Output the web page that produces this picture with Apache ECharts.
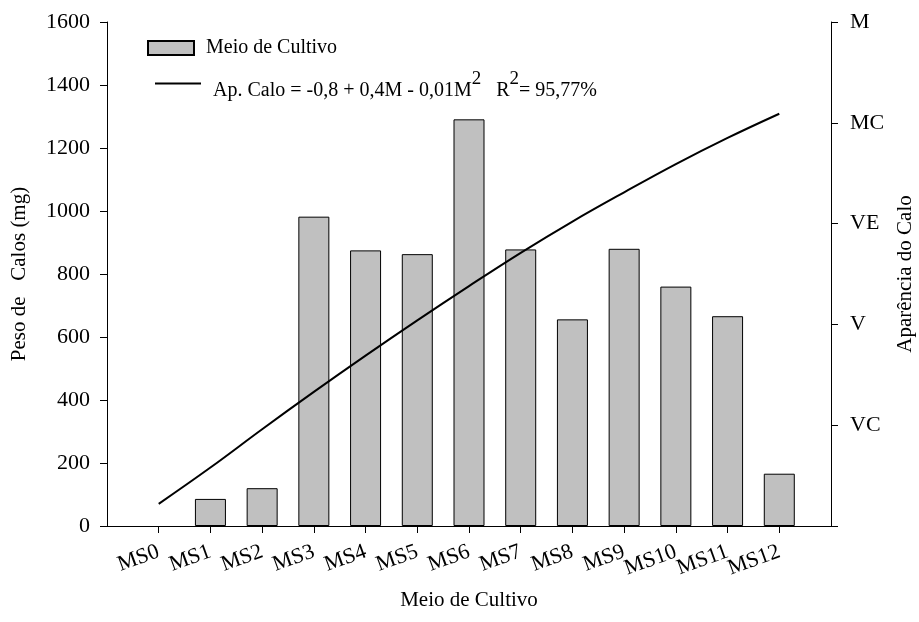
<!DOCTYPE html>
<html>
<head>
<meta charset="utf-8">
<script src="https://cdn.jsdelivr.net/npm/echarts@6/dist/echarts.min.js"></script>
<style>
  html, body { margin: 0; padding: 0; background: #fff; }
  #chart { width: 919px; height: 622px; }
</style>
</head>
<body>
<div id="chart"></div>
<script>
// Culture media (blank slots pad the axis on both sides)
const categories = ['', 'MS0', 'MS1', 'MS2', 'MS3', 'MS4', 'MS5', 'MS6', 'MS7', 'MS8', 'MS9', 'MS10', 'MS11', 'MS12', ''];
// Callus weight (mg) per medium
const pesoCalos = [null, null, 86, 120, 982, 875, 863, 1291, 878, 656, 880, 760, 666, 166, null];
// Fitted callus appearance score (right axis)
const aparencia = [null, 0.22, 0.58, 0.96, 1.33, 1.69, 2.04, 2.38, 2.71, 3.02, 3.31, 3.59, 3.85, 4.09, null];
// Right axis tick labels (score 0..5)
const aparenciaLabels = ['', 'VC', 'V', 'VE', 'MC', 'M'];

const FONT = "'Liberation Serif', 'Times New Roman', serif";
const chart = echarts.init(document.getElementById('chart'), null, { renderer: 'canvas' });

const axisLine = { show: true, lineStyle: { color: '#000', width: 1 } };
const axisTick = { show: true, inside: false, length: 7, lineStyle: { color: '#000', width: 1 } };

chart.setOption({
  backgroundColor: '#fff',
  animation: false,
  grid: { left: 107, right: 88, top: 22, bottom: 96, containLabel: false, outerBoundsMode: 'none' },
  legend: [
    {
      left: 147, top: 38, padding: 0,
      itemWidth: 46, itemHeight: 14,
      data: [{ name: 'Meio de Cultivo', icon: 'rect' }],
      formatter: function (name) { return '{t|' + name + '}'; },
      textStyle: {
        fontFamily: FONT, fontSize: 20, color: '#000',
        rich: { t: { fontFamily: FONT, fontSize: 20, color: '#000', padding: [0, 0, 0, 7] } }
      }
    },
    {
      left: 155, top: 70, padding: 0,
      itemWidth: 46, itemHeight: 2,
      data: [{ name: 'Ap. Calo', icon: 'rect', itemStyle: { color: '#000', borderWidth: 0 } }],
      formatter: function () {
        return '{a|Ap. Calo = -0,8 + 0,4M - 0,01M}{s|2}{t|   R}{s|2}{t|= 95,77%}';
      },
      textStyle: {
        fontFamily: FONT, fontSize: 20, color: '#000',
        rich: {
          a: { fontFamily: FONT, fontSize: 20, color: '#000', padding: [14, 0, 0, 7] },
          t: { fontFamily: FONT, fontSize: 20, color: '#000', padding: [14, 0, 0, 0] },
          s: { fontFamily: FONT, fontSize: 19, color: '#000', padding: [0, 0, 8, 0] }
        }
      }
    }
  ],
  xAxis: {
    type: 'category',
    data: categories,
    boundaryGap: false,
    axisLine: axisLine,
    axisTick: Object.assign({}, axisTick, {
      interval: function (index, value) { return value !== ''; }
    }),
    axisLabel: {
      rotate: 20, margin: 25, interval: 0,
      fontFamily: FONT, fontSize: 22, color: '#000'
    },
    splitLine: { show: false },
    name: 'Meio de Cultivo',
    nameLocation: 'middle',
    nameGap: 64,
    nameTextStyle: { fontFamily: FONT, fontSize: 21, color: '#000' }
  },
  yAxis: [
    {
      type: 'value',
      min: 0, max: 1600, interval: 200,
      axisLine: axisLine,
      axisTick: axisTick,
      axisLabel: {
        margin: 17, fontFamily: FONT, fontSize: 22, color: '#000',
        formatter: function (v) { return String(v); }
      },
      splitLine: { show: false },
      name: 'Peso de   Calos (mg)',
      nameLocation: 'middle',
      nameRotate: 90,
      nameGap: 77,
      nameTextStyle: { fontFamily: FONT, fontSize: 21, color: '#000' }
    },
    {
      type: 'value',
      position: 'right',
      min: 0, max: 5, interval: 1,
      axisLine: axisLine,
      axisTick: axisTick,
      axisLabel: {
        margin: 19, fontFamily: FONT, fontSize: 22, color: '#000',
        formatter: function (v) { return aparenciaLabels[Math.round(v)] || ''; }
      },
      splitLine: { show: false },
      name: 'Aparência do Calo',
      nameLocation: 'middle',
      nameRotate: 90,
      nameGap: 64,
      nameTextStyle: { fontFamily: FONT, fontSize: 21, color: '#000' }
    }
  ],
  series: [
    {
      name: 'Meio de Cultivo',
      type: 'bar',
      data: pesoCalos,
      barWidth: 31,
      itemStyle: { color: '#c0c0c0', borderColor: '#000', borderWidth: 1 },
      z: 2
    },
    {
      name: 'Ap. Calo',
      type: 'line',
      yAxisIndex: 1,
      data: aparencia,
      smooth: 0.4,
      symbol: 'none',
      connectNulls: false,
      lineStyle: { color: '#000', width: 2 },
      itemStyle: { color: '#000' },
      z: 3
    }
  ]
});
</script>
</body>
</html>
